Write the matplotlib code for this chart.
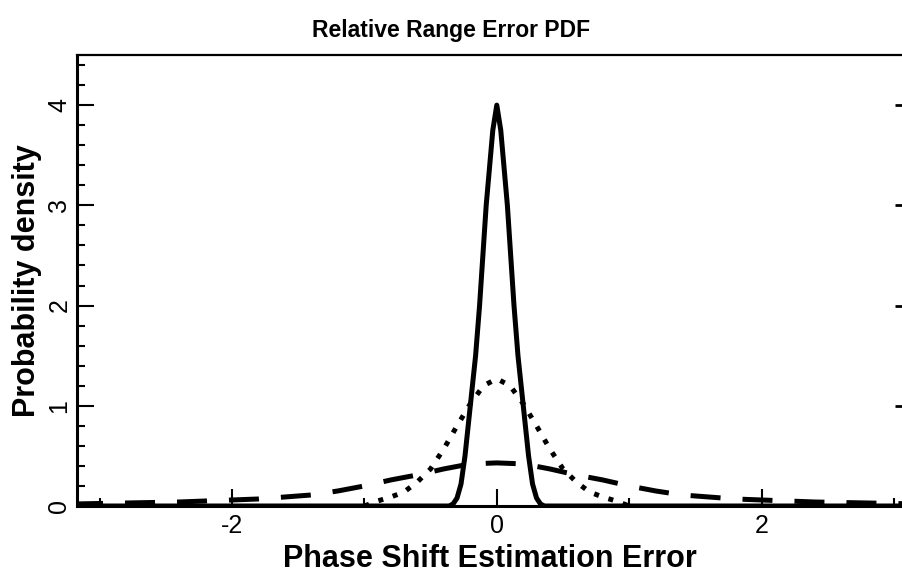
import numpy as np
import matplotlib
matplotlib.use("Agg")
from matplotlib import pyplot as plt
from matplotlib.ticker import MultipleLocator

# values (symmetric curves)
narrow_x = [-3.2, -1.0, -0.5, -0.36, -0.33, -0.30, -0.27, -0.24, -0.20, -0.16, -0.13,
            -0.10, -0.08, -0.06, -0.03, 0.0,
            0.03, 0.06, 0.08, 0.10, 0.13, 0.16, 0.20, 0.24, 0.27, 0.30, 0.33, 0.36,
            0.5, 1.0, 3.2]
narrow_y = [0.0, 0.0, 0.0, 0.0, 0.02, 0.08, 0.22, 0.5, 1.0, 1.5, 2.0,
            2.6, 3.0, 3.3, 3.75, 4.0,
            3.75, 3.3, 3.0, 2.6, 2.0, 1.5, 1.0, 0.5, 0.22, 0.08, 0.02, 0.0,
            0.0, 0.0, 0.0]

medium_x = [-1.0, -0.9, -0.8, -0.7, -0.6, -0.5, -0.4, -0.3, -0.2, -0.1, 0.0,
            0.1, 0.2, 0.3, 0.4, 0.5, 0.6, 0.7, 0.8, 0.9, 1.0]
medium_y = [0.0, 0.05, 0.09, 0.14, 0.24, 0.37, 0.57, 0.8, 1.02, 1.2, 1.27,
            1.2, 1.02, 0.8, 0.57, 0.37, 0.24, 0.14, 0.09, 0.05, 0.0]

wide_x = [-3.2, -2.8, -2.4, -2.0, -1.8, -1.6, -1.4, -1.2, -1.0, -0.8, -0.6, -0.4, -0.2, 0.0,
          0.2, 0.4, 0.6, 0.8, 1.0, 1.2, 1.4, 1.6, 1.8, 2.0, 2.4, 2.8, 3.2]
wide_y = [0.02, 0.03, 0.04, 0.06, 0.07, 0.09, 0.11, 0.15, 0.2, 0.26, 0.31, 0.37, 0.42, 0.43,
          0.42, 0.37, 0.31, 0.26, 0.2, 0.15, 0.11, 0.09, 0.07, 0.06, 0.04, 0.03, 0.02]

plt.rcParams["font.family"] = ["Liberation Sans", "DejaVu Sans"]
plt.rcParams["axes.unicode_minus"] = False

fig = plt.figure(figsize=(9.02, 5.75), dpi=100)
ax = fig.add_axes([77 / 902, 69 / 575, 1 - 77 / 902, (506 - 55) / 575])

ax.plot(narrow_x, narrow_y, color="black", lw=3.6, solid_joinstyle="round")
ax.plot(medium_x, medium_y, color="black", lw=3.6, dashes=(1, 2), dash_capstyle="butt")
ax.plot(wide_x, wide_y, color="black", lw=3.6, dashes=(6, 4.4), dash_capstyle="butt")

ax.set_xlim(-3.17, 3.06)
ax.set_ylim(0, 4.5)

# ticks
ax.xaxis.set_major_locator(MultipleLocator(2))
ax.xaxis.set_minor_locator(MultipleLocator(1))
ax.yaxis.set_major_locator(MultipleLocator(1))
ax.yaxis.set_minor_locator(MultipleLocator(0.2))
ax.tick_params(which="both", direction="in", width=1.5, labelsize=18)
ax.tick_params(which="major", length=12)
ax.tick_params(which="minor", length=6)
ax.tick_params(axis="x", which="major", pad=6)
ax.tick_params(axis="y", which="major", pad=4)
for lab in ax.get_yticklabels():
    lab.set_rotation(90)
    lab.set_va("center")

# short marks on the right edge
ax2 = ax.twinx()
ax2.set_ylim(0, 4.5)
ax2.yaxis.set_major_locator(MultipleLocator(1))
ax2.tick_params(axis="y", direction="in", length=5, width=2, labelright=False)
for side in ["left", "right", "top", "bottom"]:
    ax2.spines[side].set_visible(False)

for side in ["left", "bottom"]:
    ax.spines[side].set_linewidth(2.2)
ax.spines["top"].set_linewidth(1.6)
ax.spines["right"].set_visible(False)

fig.text(0.5, 1 - 19 / 575, "Relative Range Error PDF", fontsize=16.5, fontweight="bold",
         ha="center", va="top")
ax.set_xlabel("Phase Shift Estimation Error", fontsize=22, fontweight="bold", labelpad=4)
ax.set_ylabel("Probability density", fontsize=22, fontweight="bold", labelpad=4)

plt.savefig("out.png", dpi=100)
